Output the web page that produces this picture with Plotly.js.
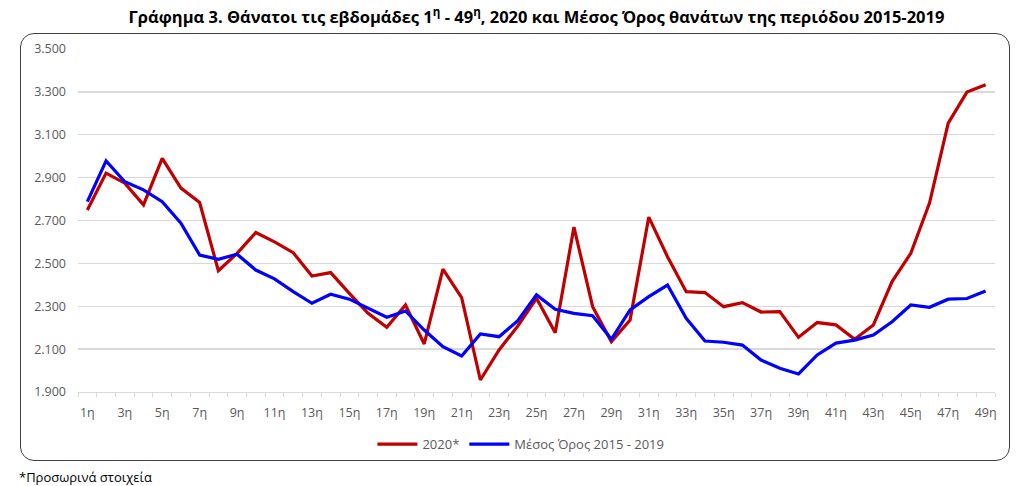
<!DOCTYPE html>
<html>
<head>
<meta charset="utf-8">
<script src="https://cdn.plot.ly/plotly-3.0.1.min.js"></script>
<style>
  html, body { margin: 0; padding: 0; background: #fff; }
  #wrap { position: relative; width: 1024px; height: 486px; }
  #frame { position: absolute; left: 20px; top: 33px; width: 990px; height: 428px;
           border: 1.3px solid #404040; border-radius: 14px; box-sizing: border-box; }
  #chart { position: absolute; left: 0; top: 0; width: 1024px; height: 486px; }
</style>
</head>
<body>
<div id="wrap">
  <div id="frame"></div>
  <div id="chart"></div>
</div>
<script>
const weeks = [];
for (let i = 1; i <= 49; i++) weeks.push(i + 'η');

const deaths2020 = [2749, 2921, 2874, 2773, 2990, 2851, 2784, 2466, 2547, 2644,
  2600, 2550, 2441, 2457, 2360, 2267, 2202, 2306, 2124, 2473,
  2340, 1956, 2096, 2208, 2337, 2177, 2669, 2298, 2135, 2236,
  2716, 2531, 2368, 2364, 2298, 2317, 2273, 2275, 2155, 2224,
  2213, 2146, 2213, 2415, 2547, 2781, 3154, 3299, 3333];

const avg2015_2019 = [2788, 2978, 2881, 2843, 2788, 2687, 2539, 2519, 2543, 2469,
  2428, 2368, 2314, 2356, 2333, 2291, 2249, 2278, 2189, 2111,
  2068, 2171, 2158, 2233, 2353, 2286, 2267, 2256, 2146, 2283,
  2345, 2399, 2244, 2138, 2132, 2119, 2049, 2011, 1984, 2073,
  2128, 2142, 2166, 2228, 2306, 2295, 2333, 2336, 2371];

const tickLabels = weeks.map((w, i) => (i % 2 === 0 ? w : ' '));
const yTicks = [1900, 2100, 2300, 2500, 2700, 2900, 3100, 3300, 3500];

const traces = [
  { x: weeks, y: deaths2020, type: 'scatter', mode: 'lines', name: '2020*',
    line: { color: '#C00000', width: 3.2 } },
  { x: weeks, y: avg2015_2019, type: 'scatter', mode: 'lines', name: 'Μέσος Όρος 2015 - 2019',
    line: { color: '#0000FF', width: 3.2 } }
];

const layout = {
  width: 1024, height: 486,
  paper_bgcolor: 'rgba(0,0,0,0)', plot_bgcolor: 'rgba(0,0,0,0)',
  separators: ',.',
  margin: { l: 78, r: 29, t: 49, b: 94 },
  font: { family: 'Open Sans, sans-serif', color: '#595959', size: 12 },
  title: {
    text: 'Γράφημα 3. Θάνατοι τις εβδομάδες 1<sup>η</sup> - 49<sup>η</sup>, 2020 και Μέσος Όρος θανάτων της περιόδου 2015-2019',
    font: { family: 'Open Sans, sans-serif', size: 16.5, color: '#000', weight: 'bold' },
    x: 0.5, xref: 'paper', y: 0.965, yref: 'container', yanchor: 'middle'
  },
  xaxis: {
    type: 'category',
    tickmode: 'array', tickvals: weeks, ticktext: tickLabels,
    tickson: 'boundaries', ticks: 'outside', ticklen: 4, tickcolor: '#d9d9d9',
    showline: true, linecolor: '#d9d9d9', linewidth: 1.3,
    showgrid: false, zeroline: false,
    tickfont: { size: 12.5, color: '#595959' },
    tickangle: 0,
    ticklabelstandoff: 9,
    range: [-0.5, 48.5],
    fixedrange: true
  },
  yaxis: {
    range: [1900, 3500],
    tickmode: 'array', tickvals: yTicks,
    tickformat: ',d',
    showgrid: true, gridcolor: '#d9d9d9', gridwidth: 1.3,
    zeroline: false, showline: false, ticks: '',
    ticklabelstandoff: 11,
    tickfont: { size: 12.5, color: '#595959' },
    fixedrange: true
  },
  legend: {
    orientation: 'h', x: 0.483, xanchor: 'center', y: -0.152, yanchor: 'middle',
    font: { size: 13, color: '#595959' }, itemwidth: 40
  },
  annotations: [
    { text: '*Προσωρινά στοιχεία', xref: 'paper', yref: 'paper', showarrow: false,
      x: -0.066, xanchor: 'left', y: -0.248, yanchor: 'middle',
      font: { size: 13, color: '#000' } }
  ]
};

Plotly.newPlot('chart', traces, layout, { displayModeBar: false, staticPlot: true });
</script>
</body>
</html>
